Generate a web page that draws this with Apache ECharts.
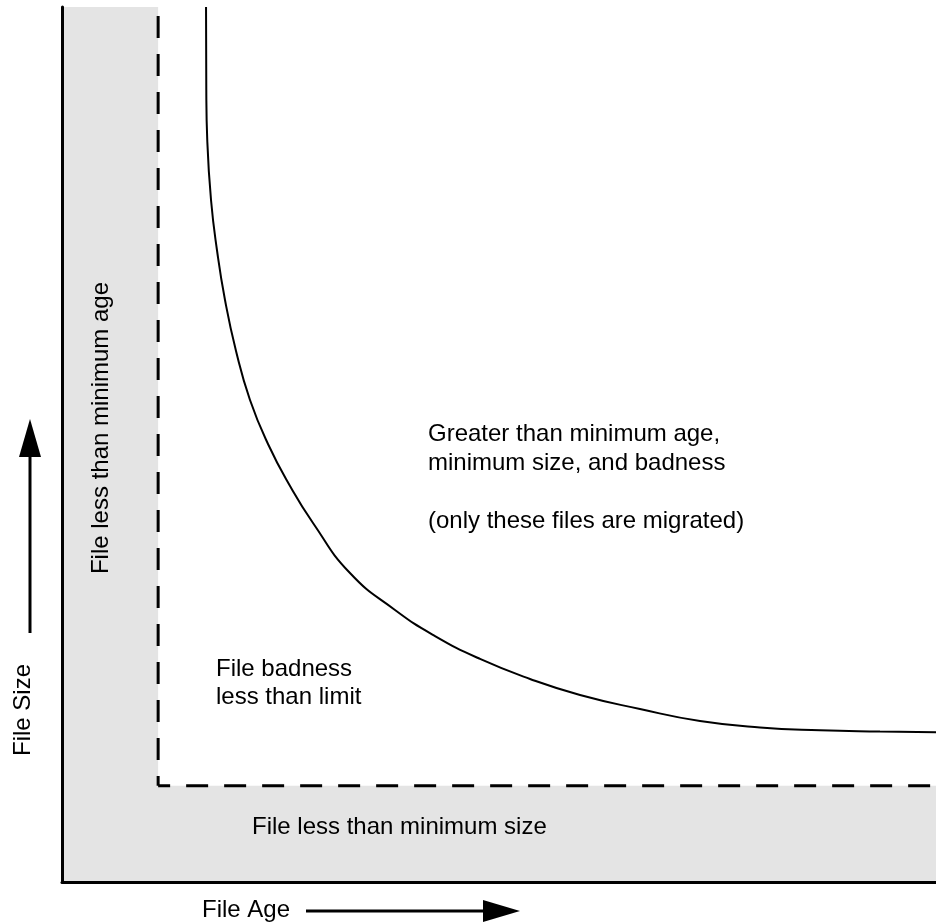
<!DOCTYPE html>
<html>
<head>
<meta charset="utf-8">
<script src="https://cdn.jsdelivr.net/npm/echarts@6/dist/echarts.min.js"></script>
<style>
html,body{margin:0;padding:0;background:#fff;}
#c{width:936px;height:923px;}
</style>
</head>
<body>
<div id="c"></div>
<script>
// Threshold values (0-100 conceptual scale)
const ageMin = 11;
const sizeMin = 11;
const axisMax = 100;
// Badness-limit curve (age, size)
const curveAge  = [16.48, 16.51, 16.62, 17.05, 17.73, 18.65, 19.91, 21.51, 23.57, 26.09, 28.72, 32.95, 38.10, 42.68, 47.83, 53.55, 59.27, 66.13, 73.00, 79.86, 86.73, 93.59, 100];
const curveSize = [100, 90.51, 84.80, 77.94, 72.23, 66.51, 60.69, 55.09, 50.06, 45.26, 41.03, 35.31, 31.09, 28.11, 25.49, 23.20, 21.37, 19.77, 18.40, 17.66, 17.34, 17.20, 17.11];

const FONT = '"Liberation Sans", Arial, Helvetica, sans-serif';
const FS = 24;

const chart = echarts.init(document.getElementById('c'), null, {renderer: 'canvas'});
const curve = curveAge.map((a, i) => [a, curveSize[i]]);

chart.setOption({
  animation: false,
  backgroundColor: '#fff',
  grid: {left: 62, right: 0, top: 7, bottom: 41},
  xAxis: {
    type: 'value', min: 0, max: axisMax, z: 10,
    axisLine: {show: true, lineStyle: {color: '#000', width: 3}},
    axisTick: {show: false}, axisLabel: {show: false}, splitLine: {show: false}
  },
  yAxis: {
    type: 'value', min: 0, max: axisMax, z: 10,
    axisLine: {show: true, lineStyle: {color: '#000', width: 3}},
    axisTick: {show: false}, axisLabel: {show: false}, splitLine: {show: false}
  },
  series: [
    {
      type: 'line', data: [], silent: true,
      markArea: {
        silent: true,
        itemStyle: {color: '#e4e4e4'},
        data: [
          [{coord: [0, 0]}, {coord: [ageMin, axisMax]}],
          [{coord: [0, 0]}, {coord: [axisMax, sizeMin]}]
        ]
      }
    },
    {
      type: 'line', symbol: 'none', z: 3,
      data: [[ageMin, axisMax], [ageMin, sizeMin]],
      lineStyle: {color: '#000', width: 3, type: [22, 16], dashOffset: 29, cap: 'butt'}
    },
    {
      type: 'line', symbol: 'none', z: 3,
      data: [[ageMin, sizeMin], [axisMax, sizeMin]],
      lineStyle: {color: '#000', width: 3, type: [22, 16], dashOffset: 10, cap: 'butt'}
    },
    {
      type: 'line', symbol: 'none', z: 4, smooth: 0.5,
      data: curve,
      lineStyle: {color: '#000', width: 2}
    }
  ],
  graphic: [
    {type: 'text', left: 202, top: 898, style: {text: 'File Age', font: FS + 'px ' + FONT, fill: '#000'}},
    {type: 'line', shape: {x1: 306, y1: 911, x2: 486, y2: 911}, style: {stroke: '#000', lineWidth: 3}},
    {type: 'polygon', shape: {points: [[483, 900], [520, 911], [483, 922]]}, style: {fill: '#000'}},

    {type: 'text', x: 23, y: 710, rotation: Math.PI / 2,
      style: {text: 'File Size', font: FS + 'px ' + FONT, fill: '#000', align: 'center', verticalAlign: 'middle'}},
    {type: 'line', shape: {x1: 30, y1: 633, x2: 30, y2: 454}, style: {stroke: '#000', lineWidth: 3}},
    {type: 'polygon', shape: {points: [[19, 457], [30, 419], [41, 457]]}, style: {fill: '#000'}},

    {type: 'text', x: 101, y: 428, rotation: Math.PI / 2, z: 20,
      style: {text: 'File less than minimum age', font: FS + 'px ' + FONT, fill: '#000', align: 'center', verticalAlign: 'middle'}},
    {type: 'text', left: 252, top: 815, z: 20,
      style: {text: 'File less than minimum size', font: FS + 'px ' + FONT, fill: '#000'}},
    {type: 'text', x: 216, y: 655, z: 20,
      style: {text: 'File badness\nless than limit', font: FS + 'px ' + FONT, lineHeight: 28, fill: '#000', verticalAlign: 'top'}},
    {type: 'text', x: 428, y: 420, z: 20,
      style: {text: 'Greater than minimum age,\nminimum size, and badness\n\n(only these files are migrated)', font: FS + 'px ' + FONT, lineHeight: 29, fill: '#000', verticalAlign: 'top'}}
  ]
});
</script>
</body>
</html>
